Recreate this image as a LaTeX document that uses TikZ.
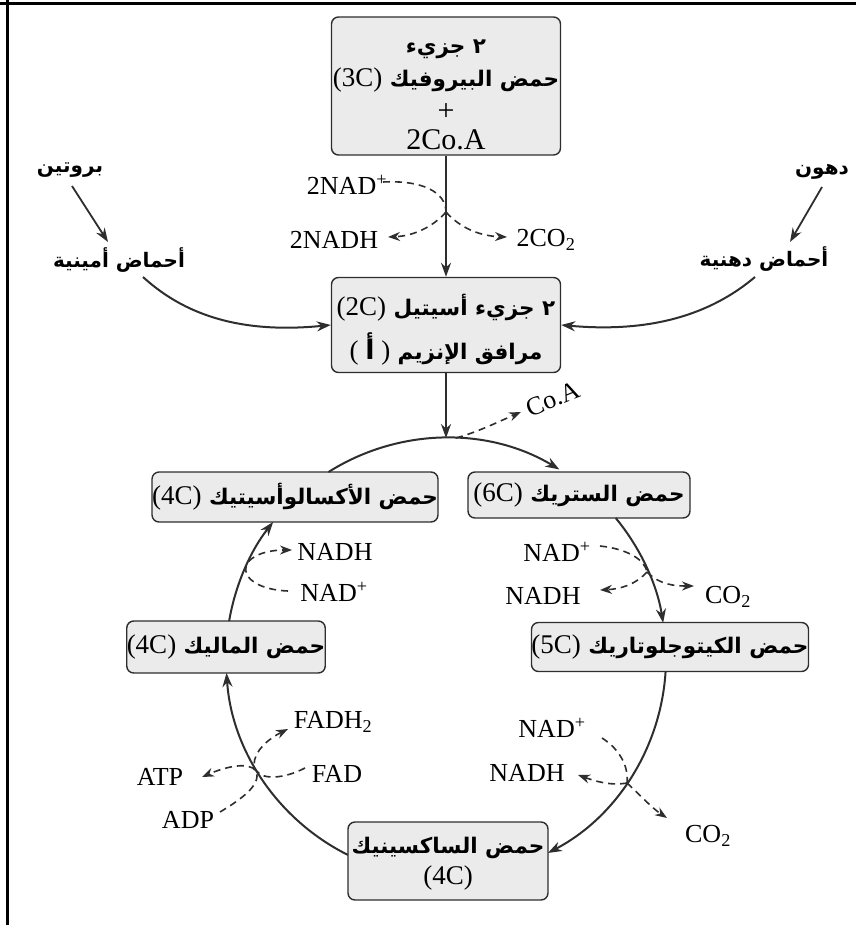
\documentclass[tikz,border=0pt]{standalone}
\usepackage{fontspec}
\setmainfont{Liberation Serif}
\newfontfamily\arabicfont[Script=Arabic]{DejaVu Sans}
\TeXXeTstate=1
\usetikzlibrary{calc,arrows.meta}
\newcommand\arb{\arabicfont\bfseries}
\newcommand\LT[1]{\beginL{\normalfont\fontsize{27}{32}\selectfont #1}\endL}
\definecolor{boxfill}{gray}{0.92}
\definecolor{ink}{gray}{0.18}
\begin{document}
\begin{tikzpicture}[x=1pt,y=-1pt,
  box/.style={draw=ink, line width=1.4pt, rounded corners=7pt, fill=boxfill, inner sep=0pt},
  arbox/.style={font=\fontsize{21.5}{26}\selectfont\arb, inner sep=0pt},
  boxlat/.style={font=\fontsize{30}{36}\selectfont, inner sep=0pt},
  lbl/.style={font=\fontsize{26}{30}\selectfont, inner sep=0pt, text=black},
  arlbl/.style={font=\fontsize{20}{24}\selectfont\arb, inner sep=0pt},
  flow/.style={line width=2pt, draw=ink, -{Stealth[length=14pt,width=10pt]}},
  side/.style={line width=1.6pt, draw=ink, dash pattern=on 7pt off 5pt},
  sidearrow/.style={side, -{Stealth[length=12pt,width=9pt]}}
]
\useasboundingbox (0,0) rectangle (856,925);
% frame
\draw[line width=3pt] (0,4) -- (856,4);
\draw[line width=3pt] (7,0) -- (7,925);

% top box
\node[box, minimum width=229pt, minimum height=138pt] (pyr) at (446,86) {};
\node[arbox] (pyr1) at (446,49) {\beginR ٢ جزيء\endR};
\node[arbox] (pyr2) at (446,80) {\beginR حمض البيروفيك \LT{(3C)}\endR};
\node[boxlat] (pyr3) at (446,112) {+};
\node[boxlat] (pyr4) at (446,140) {2Co.A};

% acetyl box
\node[box, minimum width=229pt, minimum height=95pt] (acet) at (446,325) {};
\node[arbox] (acet1) at (446,308) {\beginR ٢ جزيء أسيتيل \LT{(2C)}\endR};
\node[arbox] (acet2) at (446,349) {\beginR مرافق الإنزيم \LT{(\ {\arb أ}\ )}\endR};

\draw[flow] (pyr.south) -- (acet.north);

% NAD -> NADH / CO2
\node[lbl] (nad1) at (347,185) {2NAD\textsuperscript{+}};
\node[lbl] (nadh1) at (334,240) {2NADH};
\node[lbl] (co21) at (546,240) {2CO\textsubscript{2}};
\coordinate (s1) at (383,182);
\coordinate (j1) at (446,212);
\coordinate (e1a) at (388,237);
\coordinate (e1b) at (507,237);
\draw[side] (s1) .. controls (422,180) and (446,192) .. (j1);
\draw[sidearrow] (j1) .. controls (432,228) and (412,236) .. (e1a);
\draw[sidearrow] (j1) .. controls (460,228) and (480,236) .. (e1b);

% protein / fats
\node[arlbl] (prot) at (70,170) {\beginR بروتين\endR};
\node[arlbl] (amino) at (119,260) {\beginR أحماض أمينية\endR};
\node[arlbl] (fat) at (822,172) {\beginR دهون\endR};
\node[arlbl] (fatty) at (764,259) {\beginR أحماض دهنية\endR};
\coordinate (pa) at (72,186); \coordinate (pb) at (108,242);
\coordinate (fa) at (822,187); \coordinate (fb) at (790,242);
\coordinate (aa) at (143,277); \coordinate (fc) at (755,277);
\draw[flow, line width=1.8pt] (pa) -- (pb);
\draw[flow, line width=1.8pt] (fa) -- (fb);
\draw[flow] (aa) .. controls (190,320) and (250,333) .. (acet.west);
\draw[flow] (fc) .. controls (710,315) and (650,333) .. (acet.east);

% cycle
\coordinate (C) at (446,658);
\node[box, minimum width=276pt, minimum height=50pt, arbox] (oxa) at (295,497) {\beginR حمض الأكسالوأسيتيك \LT{(4C)}\endR};
\node[box, minimum width=222pt, minimum height=46pt, arbox] (cit) at (579,495) {\beginR حمض الستريك \LT{(6C)}\endR};
\node[box, minimum width=270pt, minimum height=49pt, arbox] (akg) at (670,647) {\beginR حمض الكيتوجلوتاريك \LT{(5C)}\endR};
\node[box, minimum width=198pt, minimum height=52pt, arbox] (mal) at (226,647) {\beginR حمض الماليك \LT{(4C)}\endR};
\node[box, minimum width=200pt, minimum height=78pt] (suc) at (448,861) {};
\node[arbox] (suc1) at (448,848) {\beginR حمض الساكسينيك\endR};
\node[boxlat, font=\fontsize{27}{32}\selectfont] (suc2) at (448,878) {(4C)};

\coordinate (top) at ($(C)+(90:220pt)$);
\draw[flow] (acet.south) -- (top);
\draw[flow] ($(C)+(122.3:220pt)$) arc[start angle=122.3, end angle=59, radius=220pt];
\draw[flow] ($(C)+(39.5:220pt)$) arc[start angle=39.5, end angle=9.2, radius=220pt];
\draw[flow] ($(C)+(-3.6:220pt)$) arc[start angle=-3.6, end angle=-62.4, radius=220pt];
\draw[flow] ($(C)+(243.5:220pt)$) arc[start angle=243.5, end angle=183.9, radius=220pt];
\draw[flow] ($(C)+(170.3:220pt)$) arc[start angle=170.3, end angle=141.8, radius=220pt];

% Co.A
\coordinate (coa0) at (456,438);
\node[lbl, rotate=22] (coa) at (553,399) {Co.A};
\draw[sidearrow] (coa0) .. controls (478,432) and (500,421) .. (521,412);

% oxaloacetate side
\node[lbl] (nadh2) at (335,552) {NADH};
\node[lbl] (nad2) at (334,592) {NAD\textsuperscript{+}};
\draw[sidearrow] (288,591) .. controls (262,590) and (243,580) .. (246,566) .. controls (250,555) and (268,550) .. (292,550);

% citrate side
\node[lbl] (nad3) at (557,552) {NAD\textsuperscript{+}};
\node[lbl] (nadh3) at (543,596) {NADH};
\node[lbl] (co23) at (728,597) {CO\textsubscript{2}};
\coordinate (j3) at (647,572);
\draw[side] (600,546) .. controls (628,549) and (645,560) .. (j3);
\draw[sidearrow] (j3) .. controls (635,585) and (620,589) .. (600,590);
\draw[sidearrow] (j3) .. controls (660,585) and (675,586) .. (694,586);

% alpha-ketoglutarate side
\node[lbl] (nad4) at (552,728) {NAD\textsuperscript{+}};
\node[lbl] (nadh4) at (527,773) {NADH};
\node[lbl] (co24) at (708,836) {CO\textsubscript{2}};
\coordinate (j4) at (627,783);
\draw[side] (602,738) .. controls (618,748) and (629,765) .. (j4);
\draw[sidearrow] (j4) .. controls (610,786) and (595,781) .. (578,775);
\draw[sidearrow] (j4) .. controls (640,795) and (652,808) .. (667,818);

% succinate side
\node[lbl] (fadh) at (333,722) {FADH\textsubscript{2}};
\node[lbl] (fad) at (337,774) {FAD};
\node[lbl] (atp) at (160,777) {ATP};
\node[lbl] (adp) at (188,820) {ADP};
\draw[sidearrow] (305,768) .. controls (282,780) and (256,781) .. (254,765) .. controls (254,750) and (270,738) .. (288,729);
\draw[sidearrow] (220,812) .. controls (240,800) and (262,785) .. (256,771) .. controls (249,761) and (225,767) .. (202,777);
\end{tikzpicture}
\end{document}
